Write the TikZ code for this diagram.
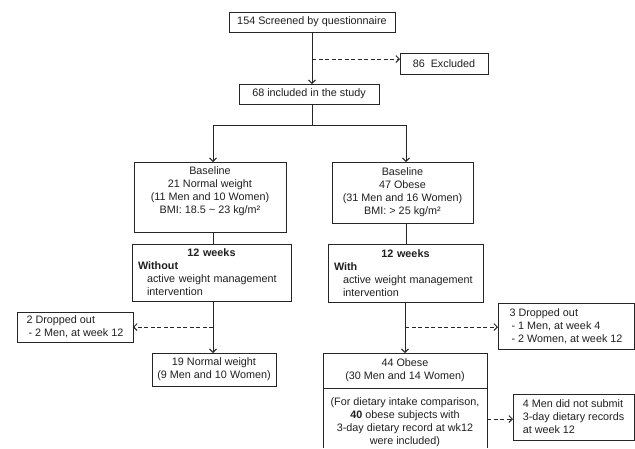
\documentclass[tikz,border=0pt]{standalone}
\usepackage{fontspec}
\setmainfont{Liberation Sans}
\usetikzlibrary{arrows.meta}
\begin{document}
\begin{tikzpicture}[x=1pt,y=-1pt,
  every node/.style={font=\fontsize{10.8}{13}\selectfont, text=black!88, outer sep=0pt, inner sep=0pt},
  box/.style={draw=black!85, line width=0.8pt, align=center},
  txt/.style={align=center},
  conn/.style={draw=black!85, line width=0.9pt},
  arr/.style={conn, -{Straight Barb[length=3.5pt,width=7pt]}},
  dsh/.style={arr, dash pattern=on 4pt off 2.5pt}]
\useasboundingbox (0,0) rectangle (635,448);
% boxes
\node[box, minimum width=166pt, minimum height=20pt] (scr) at (312,22) {154 Screened by questionnaire};
\node[box, minimum width=88pt, minimum height=21pt] (exc) at (444,63.5) {86\ \ Excluded};
\node[box, minimum width=140pt, minimum height=20pt] (inc) at (309,94) {68 included in the study};
\node[box, minimum width=152pt, minimum height=70pt] (bl) at (210,197) {};
\node[txt] (blt) at (210,191.5) {Baseline\\21 Normal weight\\(11 Men and 10 Women)\\BMI: 18.5 \textasciitilde{} 23 kg/m²};
\node[box, minimum width=141pt, minimum height=61pt] (br) at (402.5,192.5) {Baseline\\47 Obese\\(31 Men and 16 Women)\\BMI: > 25 kg/m²};
\node[box, align=left, text width=147pt, inner xsep=6pt, minimum height=57pt] (wl) at (211.5,272.5)
  {\makebox[\linewidth]{\textbf{12 weeks}}\\\textbf{Without}\\\hspace*{9pt}active weight management\\\hspace*{9pt}intervention};
\node[box, align=left, text width=143pt, inner xsep=6pt, minimum height=58pt] (wr) at (405.5,273)
  {\makebox[\linewidth]{\textbf{12 weeks}}\\\textbf{With}\\\hspace*{9pt}active weight management\\\hspace*{9pt}intervention};
\node[box, align=left, minimum width=116pt, minimum height=30pt] (dl) at (75,327) {2 Dropped out\\\hspace*{2pt}- 2 Men, at week 12};
\node[box, minimum width=124pt, minimum height=33pt] (nl) at (214,369.5) {19 Normal weight\\(9 Men and 10 Women)};
\node[box, align=left, minimum width=136pt, minimum height=46pt] (dr) at (566,326) {3 Dropped out\\\hspace*{2pt}- 1 Men, at week 4\\\hspace*{2pt}- 2 Women, at week 12};
\node[box, minimum width=164pt, minimum height=35pt] (ob1) at (405,370.5) {44 Obese\\(30 Men and 14 Women)};
\node[txt] (ob2) at (405,422.5) {(For dietary intake comparison,\\\textbf{40} obese subjects with\\3-day dietary record at wk12\\were included)};
\draw[black!85, line width=0.8pt] (ob1.south west) -- ++(0,60);
\draw[black!85, line width=0.8pt] (ob1.south east) -- ++(0,60);
\node[box, align=left, minimum width=121pt, minimum height=46pt] (m4) at (573.5,417) {4 Men did not submit\\3-day dietary records\\at week 12};
% junction coordinates
\coordinate (j1) at (312,59);
\coordinate (fk) at (312,125);
\coordinate (fl) at (213,125);
\coordinate (fr) at (406,125);
\coordinate (jl) at (213,327);
\coordinate (jr) at (405,327);
\coordinate (j3) at (487,419);
% connectors
\draw[arr] (scr.south) -- (scr.south |- inc.north);
\draw[dsh] (j1) -- (j1 -| exc.west);
\draw[conn] (inc.south -| fk) -- (fk);
\draw[conn] (fl) -- (fr);
\draw[arr] (fl) -- (fl |- bl.north);
\draw[arr] (fr) -- (fr |- br.north);
\draw[conn] (bl.south -| fl) -- (fl |- wl.north);
\draw[conn] (br.south -| fr) -- (fr |- wr.north);
\draw[arr] (wl.south -| fl) -- (fl |- nl.north);
\draw[dsh] (jl) -- (jl -| dl.east);
\draw[arr] (wr.south -| jr) -- (jr |- ob1.north);
\draw[dsh] (jr) -- (jr -| dr.west);
\draw[dsh] (j3) -- (j3 -| m4.west);
\end{tikzpicture}
\end{document}
